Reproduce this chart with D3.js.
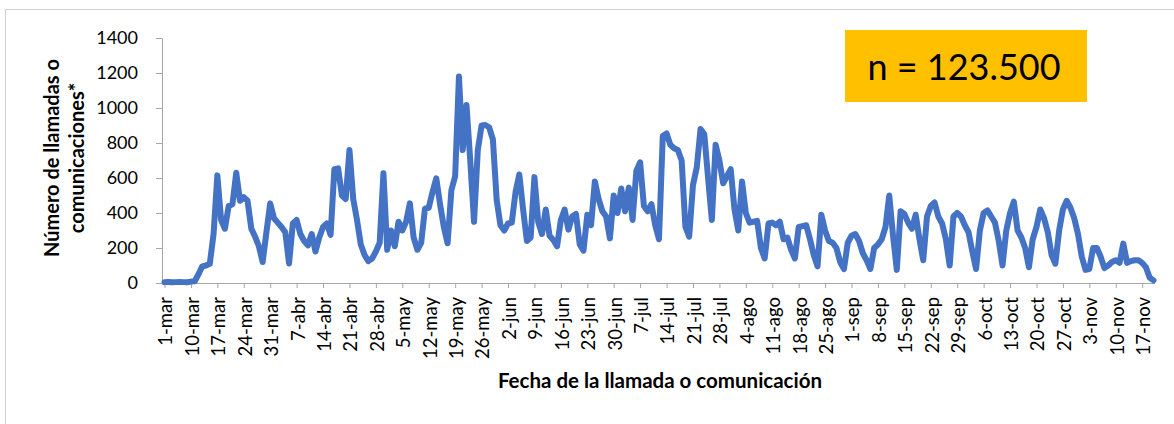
<!DOCTYPE html>
<html>
<head>
<meta charset="utf-8">
<script src="https://d3js.org/d3.v7.min.js"></script>
<style>
  body { margin: 0; background: #fff; }
  text { font-family: Lato, "Open Sans", sans-serif; fill: #000; }
</style>
</head>
<body>
<div id="chart"></div>
<script>
// first week has a couple of days without data
const firstDays = ["1-mar", "4-mar", "5-mar", "6-mar", "7-mar", "8-mar", "9-mar"];
const monthNames = ["ene", "feb", "mar", "abr", "may", "jun", "jul", "ago", "sep", "oct", "nov", "dic"];

const tickLabels = ["1-mar", "10-mar", "17-mar", "24-mar", "31-mar", "7-abr", "14-abr", "21-abr",
  "28-abr", "5-may", "12-may", "19-may", "26-may", "2-jun", "9-jun", "16-jun", "23-jun", "30-jun",
  "7-jul", "14-jul", "21-jul", "28-jul", "4-ago", "11-ago", "18-ago", "25-ago", "1-sep", "8-sep",
  "15-sep", "22-sep", "29-sep", "6-oct", "13-oct", "20-oct", "27-oct", "3-nov", "10-nov", "17-nov"];

const yTicks = [0, 200, 400, 600, 800, 1000, 1200, 1400];

// llamadas o comunicaciones por día
const calls = [
  5, 6, 4, 5, 6, 5, 4, 8, 10, 50,
  95, 100, 110, 280, 615, 360, 310, 440, 450, 630,
  470, 490, 470, 310, 265, 210, 120, 290, 455, 370,
  345, 320, 290, 112, 340, 360, 280, 240, 215, 280,
  180, 260, 320, 340, 275, 650, 655, 500, 480, 760,
  480, 360, 220, 160, 125, 140, 180, 230, 627, 190,
  300, 210, 350, 300, 350, 455, 260, 190, 230, 425,
  430, 520, 598, 450, 320, 227, 530, 610, 1180, 760,
  1017, 700, 350, 760, 900, 903, 890, 820, 474, 330,
  300, 340, 345, 520, 620, 420, 240, 260, 605, 350,
  280, 420, 270, 246, 210, 360, 420, 305, 380, 395,
  220, 185, 390, 330, 580, 480, 410, 380, 255, 500,
  400, 540, 410, 545, 360, 640, 690, 440, 410, 450,
  330, 250, 840, 855, 790, 770, 760, 700, 320, 265,
  560, 660, 880, 850, 600, 360, 790, 700, 570, 610,
  650, 420, 300, 580, 400, 345, 350, 355, 200, 140,
  340, 345, 330, 350, 250, 260, 190, 140, 320, 325,
  330, 250, 160, 95, 390, 300, 240, 230, 200, 120,
  80, 230, 270, 280, 240, 170, 130, 80, 200, 220,
  250, 320, 500, 270, 75, 410, 395, 345, 310, 390,
  250, 130, 380, 440, 460, 380, 340, 250, 100, 380,
  400, 380, 330, 290, 180, 80, 300, 400, 415, 380,
  345, 240, 100, 300, 400, 465, 300, 260, 200, 90,
  250, 320, 420, 370, 290, 160, 110, 300, 420, 470,
  430, 370, 280, 150, 75, 80, 200, 200, 150, 85,
  100, 120, 130, 115, 225, 115, 125, 130, 130, 115,
  90, 30, 15
];

const sampleLabel = "n = 123.500";

// category list: one entry per value
const days = firstDays.slice();
const cursor = new Date(2020, 2, 10);
while (days.length < calls.length) {
  days.push(cursor.getDate() + "-" + monthNames[cursor.getMonth()]);
  cursor.setDate(cursor.getDate() + 1);
}
const data = calls.map((v, i) => ({ day: days[i], value: v }));

const width = 1174, height = 424;
const svg = d3.select("#chart").append("svg")
  .attr("width", width)
  .attr("height", height);

// chart area border
svg.append("rect")
  .attr("x", 5.5).attr("y", 9.5)
  .attr("width", 1200).attr("height", 500)
  .attr("fill", "#fff")
  .attr("stroke", "#d0d0d0");

const x = d3.scalePoint().domain(days).range([164.5, 1153.5]);
const y = d3.scaleLinear().domain([0, 1400]).range([283, 38]);

// Y axis
const yAxis = svg.append("g")
  .attr("transform", "translate(162,0)")
  .call(d3.axisLeft(y).tickValues(yTicks).tickFormat(d3.format("d"))
    .tickSize(6).tickPadding(18).tickSizeOuter(0));
yAxis.select(".domain").attr("stroke", "#a6a6a6");
yAxis.selectAll(".tick line").attr("stroke", "#a6a6a6");
yAxis.selectAll(".tick text").style("font-size", "18px");

// X axis
const xAxis = svg.append("g")
  .attr("transform", "translate(0,283)")
  .call(d3.axisBottom(x).tickValues(tickLabels).tickSize(5).tickSizeOuter(0));
xAxis.select(".domain").attr("stroke", "#a6a6a6").attr("d", "M162,0.5H1155");
xAxis.selectAll(".tick line").attr("stroke", "#a6a6a6");
xAxis.selectAll(".tick text")
  .style("font-size", "18.5px")
  .attr("transform", "rotate(-90)")
  .attr("x", -14)
  .attr("y", 0)
  .attr("dy", "0.4em")
  .style("text-anchor", "end");

// line
svg.append("path")
  .datum(data)
  .attr("fill", "none")
  .attr("stroke", "#4472c4")
  .attr("stroke-width", 6)
  .attr("stroke-linejoin", "round")
  .attr("stroke-linecap", "round")
  .attr("d", d3.line().x(d => x(d.day)).y(d => y(d.value)));

// axis titles
const yTitle = svg.append("text")
  .attr("transform", "translate(59,158) rotate(-90)")
  .style("font-size", "20px")
  .style("font-weight", "bold")
  .attr("text-anchor", "middle");
yTitle.append("tspan").attr("x", 0).attr("y", 0).text("Número de llamadas o");
yTitle.append("tspan").attr("x", 0).attr("y", 25).text("comunicaciones*");

svg.append("text")
  .attr("x", 660).attr("y", 388)
  .attr("text-anchor", "middle")
  .style("font-size", "20.5px")
  .style("font-weight", "bold")
  .text("Fecha de la llamada o comunicación");

// sample size box
svg.append("rect")
  .attr("x", 845).attr("y", 30)
  .attr("width", 242).attr("height", 72)
  .attr("fill", "#ffc000");
svg.append("text")
  .attr("x", 964).attr("y", 80)
  .attr("text-anchor", "middle")
  .style("font-size", "36px")
  .text(sampleLabel);
</script>
</body>
</html>
